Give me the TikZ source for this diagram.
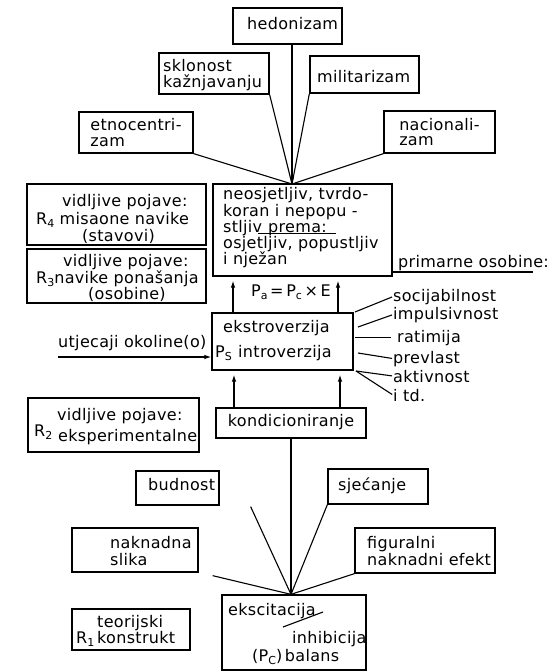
\documentclass[tikz,border=0pt]{standalone}
\usepackage{fontspec}
\setmainfont{DejaVu Sans}[LetterSpace=2]
\usetikzlibrary{arrows.meta,calc}
\newcommand\lo[1]{\raisebox{-0.35ex}{\fontsize{11}{11}\selectfont #1}}
\newcommand\bx[5]{\node[box,minimum width={(#4-#2)*1pt},minimum height={(#5-#3)*1pt}] (#1) at ({(#2+#4)/2},{(#3+#5)/2}) {};}
\begin{document}
\begin{tikzpicture}[x=1pt,y=-1pt,
  box/.style={draw,line width=1.3pt,inner sep=0pt},
  lbl/.style={anchor=base west,inner sep=0pt,font=\fontsize{16}{17}\selectfont},
  ln/.style={line width=1.1pt},
  arr/.style={line width=1.1pt,-{Latex[length=7pt,width=4.5pt]}}]
\useasboundingbox (0,0) rectangle (558,672);

% ---- boxes
\bx{hed}{233}{8}{342}{44}
\bx{skl}{159}{53}{269}{94}
\bx{mil}{310}{56}{419}{93}
\node[box,minimum width=114pt,minimum height=41pt,align=left,
      font=\fontsize{16}{15.5}\selectfont] (etn) at (136,132.5) {etnocentri-\\zam};
\node[box,minimum width=111pt,minimum height=42pt,align=left,
      font=\fontsize{16}{15.5}\selectfont] (nac) at (439.5,132) {nacionali-\\zam};
\bx{cb}{213}{184}{392}{276}
\bx{rfour}{27}{184}{206}{245}
\bx{rthree}{27}{249}{206}{303}
\bx{eb}{212}{313}{353}{370}
\bx{kb}{216}{408}{366}{438}
\bx{rtwo}{28}{398}{199}{452}
\bx{bud}{136}{471}{219}{505}
\bx{sje}{328}{469}{428}{504}
\bx{nak}{72}{528}{198}{572}
\bx{fig}{355}{528}{495}{573}
\bx{ex}{222}{595}{366}{670}
\bx{rone}{72}{609}{190}{650}

% ---- texts
\node[lbl] (thed) at (247,29) {hedonizam};
\node[lbl] (tskla) at (163,71) {sklonost};
\node[lbl] (tsklb) at (163,87) {kažnjavanju};
\node[lbl] (tmil) at (317,82) {militarizam};

\node[lbl] (tcba) at (223,199) {neosjetljiv, tvrdo-};
\node[lbl] (tcbb) at (223,216) {koran i nepopu -};
\node[lbl] (tcbc) at (223,232) {stljiv};
\node[lbl] (tcbd) at (268,232) {prema:};
\draw[ln] (tcbd.base west) ++(-10,1.5) -- ++(78,0);
\node[lbl] (tcbe) at (223,248) {osjetljiv, popustljiv};
\node[lbl] (tcbf) at (223,264) {i nježan};

\node[lbl] (tr4a) at (62,206) {vidljive pojave:};
\node[lbl] (tr4b) at (36,224) {R\lo{4} misaone navike};
\node[lbl] (tr4c) at (82,241) {(stavovi)};
\node[lbl] (tr3a) at (63,266) {vidljive pojave:};
\node[lbl] (tr3b) at (36,283) {R\lo{3}navike ponašanja};
\node[lbl] (tr3c) at (88,299) {(osobine)};

\node[lbl,anchor=base] (tpa) at (291,296) {P\lo{a}\,=\,P\lo{c}\,×\,E};

\node[lbl] (teba) at (223,332) {ekstroverzija};
\node[lbl] (tebb) at (215,357) {P\lo{S}};
\node[lbl] (tebc) at (238,357) {introverzija};

\node[lbl] (tutj) at (58,347) {utjecaji okoline(o)};
\coordinate (uo) at (58,357);

\node[lbl] (tprim) at (398,267) {primarne osobine:};
\draw[ln] (tprim.base west) ++(-5,5) -- ++(140,0);

\node[lbl] (soc) at (393,301) {socijabilnost};
\node[lbl] (imp) at (393,319) {impulsivnost};
\node[lbl] (rat) at (397,342) {ratimija};
\node[lbl] (prev) at (393,363) {prevlast};
\node[lbl] (akt) at (393,382) {aktivnost};
\node[lbl] (itd) at (393,401) {i td.};

\node[lbl,anchor=base] (tkb) at (291,426) {kondicioniranje};

\node[lbl] (tr2a) at (57,420) {vidljive pojave:};
\node[lbl] (tr2b) at (34,436) {R\lo{2}};
\node[lbl] (tr2c) at (58,441) {eksperimentalne};

\node[lbl] (tbud) at (148,490) {budnost};
\node[lbl] (tsje) at (338,490) {sjećanje};
\node[lbl] (tnaka) at (110,548) {naknadna};
\node[lbl] (tnakb) at (110,565) {slika};
\node[lbl] (tfiga) at (367,548) {figuralni};
\node[lbl] (tfigb) at (367,565) {naknadni efekt};

\node[lbl] (texa) at (228,615) {ekscitacija};
\draw[ln] ($(texa.base west)+(55,12)$) -- ($(texa.base west)+(95,-3)$);
\node[lbl] (texb) at (292,643) {inhibicija};
\node[lbl] (texc) at (252,661) {(P\lo{C})\,balans};

\node[lbl] (tr1a) at (76,643) {R\lo{1}};
\node[lbl] (tr1b) at (97,627) {teorijski};
\node[lbl] (tr1c) at (97,643) {konstrukt};

% ---- connectors top
\coordinate (ctop) at (292,184);
\draw[arr] (ctop |- hed.south) -- (ctop);
\draw[ln] (skl.south east) -- (ctop);
\draw[ln] (mil.south west) -- (ctop);
\draw[ln] (etn.south east) -- (ctop);
\draw[ln] (nac.south west) -- (ctop);

% ---- between cb and eb
\draw[arr,shorten >=4pt] ([xshift=-49.5pt]eb.north) -- ([xshift=-49.5pt]eb.north |- cb.south);
\draw[arr,shorten >=4pt] ([xshift=55.5pt]eb.north) -- ([xshift=55.5pt]eb.north |- cb.south);

% ---- utjecaji
\draw[arr] (uo) -- (uo -| eb.west);

% ---- primary traits
\coordinate (s1) at (355,312);
\coordinate (s2) at (358,327);
\coordinate (s3) at (355,338);
\coordinate (s4) at (358,353);
\coordinate (s5) at (356,371);
\draw[ln,shorten >=1pt] (s1) -- (soc.west);
\draw[ln,shorten >=1pt] (s2) -- (imp.west);
\draw[ln,shorten >=6pt] (s3 |- rat.west) -- (rat.west);
\draw[ln,shorten >=1pt] (s4) -- (prev.west);
\draw[ln,shorten >=1pt] (s5) -- (akt.west);
\draw[ln,shorten >=1pt] (s5) -- (itd.west);

% ---- between kb and eb
\draw[arr,shorten >=4pt] ([xshift=-57pt]kb.north) -- ([xshift=-57pt]kb.north |- eb.south);
\draw[arr,shorten >=4pt] ([xshift=49pt]kb.north) -- ([xshift=49pt]kb.north |- eb.south);

% ---- bottom converging lines
\coordinate (cbot) at (kb.south |- ex.north);
\draw[ln] (kb.south) -- (cbot);
\draw[ln] ([xshift=31pt,yshift=-1pt]bud.south east) -- (cbot);
\draw[ln] (sje.south west) -- (cbot);
\draw[ln] ([xshift=14pt,yshift=-3pt]nak.south east) -- (cbot);
\draw[ln] (fig.south west) -- (cbot);
\end{tikzpicture}
\end{document}
